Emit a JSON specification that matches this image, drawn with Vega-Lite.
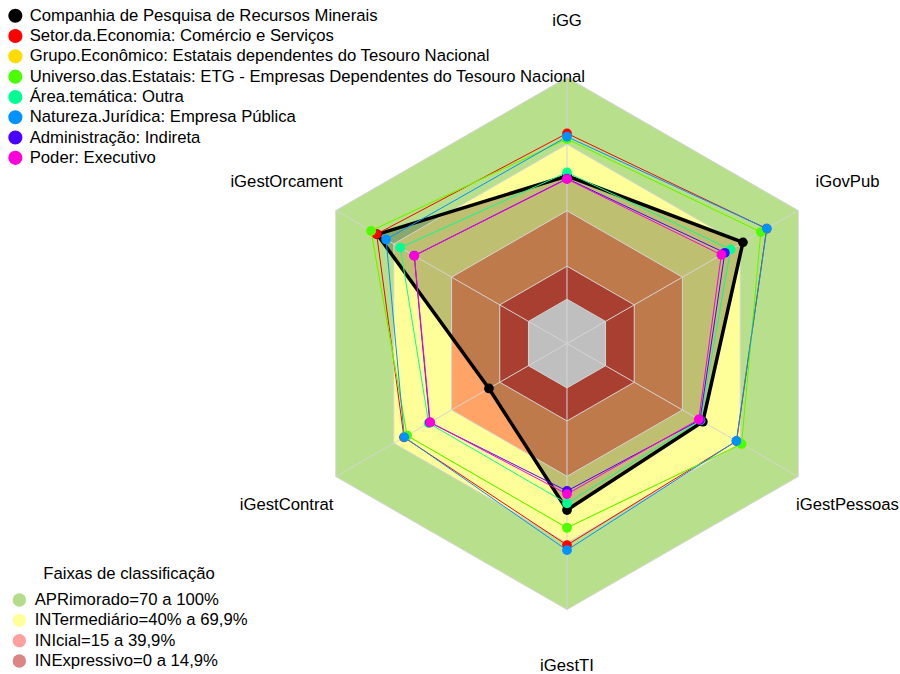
{
  "$schema": "https://vega.github.io/schema/vega-lite/v6.json",
  "width": 900,
  "height": 674,
  "padding": 0,
  "autosize": {"type": "none"},
  "background": "white",
  "config": {"view": {"stroke": null}, "font": "Liberation Sans"},
  "datasets": {
    "series": [
      {"serie": "Companhia de Pesquisa de Recursos Minerais", "iGG": 55.6, "iGovPub": 71.3, "iGestPessoas": 50.5, "iGestTI": 55.1, "iGestContrat": 20.5, "iGestOrcament": 78.5},
      {"serie": "Setor.da.Economia: Comércio e Serviços", "iGG": 74.8, "iGovPub": 83.6, "iGestPessoas": 68.0, "iGestTI": 70.9, "iGestContrat": 64.6, "iGestOrcament": 78.8},
      {"serie": "Grupo.Econômico: Estatais dependentes do Tesouro Nacional", "iGG": 72.3, "iGovPub": 80.6, "iGestPessoas": 70.6, "iGestTI": 63.1, "iGestContrat": 63.0, "iGestOrcament": 81.7},
      {"serie": "Universo.das.Estatais: ETG - Empresas Dependentes do Tesouro Nacional", "iGG": 72.3, "iGovPub": 80.6, "iGestPessoas": 70.6, "iGestTI": 63.1, "iGestContrat": 63.0, "iGestOrcament": 81.7},
      {"serie": "Área.temática: Outra", "iGG": 57.2, "iGovPub": 64.9, "iGestPessoas": 49.3, "iGestTI": 52.1, "iGestContrat": 51.8, "iGestOrcament": 66.5},
      {"serie": "Natureza.Jurídica: Empresa Pública", "iGG": 73.3, "iGovPub": 83.7, "iGestPessoas": 67.9, "iGestTI": 73.2, "iGestContrat": 64.4, "iGestOrcament": 73.9},
      {"serie": "Administração: Indireta", "iGG": 54.4, "iGovPub": 61.9, "iGestPessoas": 49.0, "iGestTI": 46.5, "iGestContrat": 51.2, "iGestOrcament": 59.3},
      {"serie": "Poder: Executivo", "iGG": 54.2, "iGovPub": 60.1, "iGestPessoas": 48.4, "iGestTI": 47.9, "iGestContrat": 51.0, "iGestOrcament": 59.2}
    ],
    "faixas": [
      {"faixa": "APRimorado=70 a 100%", "iGG": 100, "iGovPub": 100, "iGestPessoas": 100, "iGestTI": 100, "iGestContrat": 100, "iGestOrcament": 100},
      {"faixa": "INTermediário=40% a 69,9%", "iGG": 69.9, "iGovPub": 69.9, "iGestPessoas": 69.9, "iGestTI": 69.9, "iGestContrat": 69.9, "iGestOrcament": 69.9},
      {"faixa": "INIcial=15 a 39,9%", "iGG": 39.9, "iGovPub": 39.9, "iGestPessoas": 39.9, "iGestTI": 39.9, "iGestContrat": 39.9, "iGestOrcament": 39.9},
      {"faixa": "INExpressivo=0 a 14,9%", "iGG": 14.9, "iGovPub": 14.9, "iGestPessoas": 14.9, "iGestTI": 14.9, "iGestContrat": 14.9, "iGestOrcament": 14.9},
      {"faixa": "centro", "iGG": 0, "iGovPub": 0, "iGestPessoas": 0, "iGestTI": 0, "iGestContrat": 0, "iGestOrcament": 0}
    ],
    "eixos": [
      {"eixo": "iGG"}, {"eixo": "iGestOrcament"}, {"eixo": "iGestContrat"},
      {"eixo": "iGestTI"}, {"eixo": "iGestPessoas"}, {"eixo": "iGovPub"}
    ]
  },
  "layer": [
    {
      "data": {"name": "faixas"},
      "transform": [
        {"fold": ["iGG", "iGestOrcament", "iGestContrat", "iGestTI", "iGestPessoas", "iGovPub"], "as": ["eixo", "valor"]},
        {"calculate": "indexof(['iGG','iGestOrcament','iGestContrat','iGestTI','iGestPessoas','iGovPub'], datum.eixo)", "as": "k"},
        {"calculate": "(1 + 5 * datum.valor / 100) / 6", "as": "r"},
        {"calculate": "datum.r * cos(PI / 2 + datum.k * PI / 3)", "as": "px"},
        {"calculate": "datum.r * sin(PI / 2 + datum.k * PI / 3)", "as": "py"}
      ],
      "encoding": {
        "x": {"field": "px", "type": "quantitative", "axis": null, "scale": {"domain": [-2.1236, 1.2472], "nice": false, "zero": false}},
        "y": {"field": "py", "type": "quantitative", "axis": null, "scale": {"domain": [-1.2421, 1.2914], "nice": false, "zero": false}},
        "order": {"field": "k", "type": "quantitative"}
      },
      "layer": [
        {"transform": [{"filter": "datum.faixa == 'APRimorado=70 a 100%'"}],
         "mark": {"type": "line", "interpolate": "linear-closed", "strokeWidth": 0, "fill": "#B8E08C", "fillOpacity": 1}},
        {"transform": [{"filter": "datum.faixa == 'INTermediário=40% a 69,9%'"}],
         "mark": {"type": "line", "interpolate": "linear-closed", "strokeWidth": 0, "fill": "#FFFF99", "fillOpacity": 1}},
        {"transform": [{"filter": "datum.faixa == 'INIcial=15 a 39,9%'"}],
         "mark": {"type": "line", "interpolate": "linear-closed", "strokeWidth": 0, "fill": "#FFA366", "fillOpacity": 1}},
        {"transform": [{"filter": "datum.faixa == 'INExpressivo=0 a 14,9%'"}],
         "mark": {"type": "line", "interpolate": "linear-closed", "strokeWidth": 0, "fill": "#E05540", "fillOpacity": 1}},
        {"transform": [{"filter": "datum.faixa == 'centro'"}],
         "mark": {"type": "line", "interpolate": "linear-closed", "strokeWidth": 0, "fill": "#FFFFFF", "fillOpacity": 1}}
      ]
    },
    {
      "data": {"name": "faixas"},
      "transform": [{"filter": "datum.faixa != 'centro'"}],
      "mark": {"type": "circle", "opacity": 0},
      "encoding": {
        "x": {"field": "iGG", "type": "quantitative", "axis": null, "scale": {"domain": [-2.1236, 1.2472], "nice": false, "zero": false}},
        "y": {"field": "iGG", "type": "quantitative", "axis": null, "scale": {"domain": [-1.2421, 1.2914], "nice": false, "zero": false}},
        "fill": {"field": "faixa", "type": "nominal",
          "scale": {"domain": ["APRimorado=70 a 100%", "INTermediário=40% a 69,9%", "INIcial=15 a 39,9%", "INExpressivo=0 a 14,9%"],
                    "range": ["#B5DC8A", "#FFFF99", "#FFA0A0", "#DB8585"]},
          "legend": {"title": "Faixas de classificação", "orient": "none", "legendX": 11, "legendY": 566, "padding": 0,
            "titleFontSize": 16.7, "titleFontWeight": "normal", "titleColor": "black", "titleAnchor": "middle", "titlePadding": 9, "titleFont": "Liberation Sans",
            "labelFontSize": 16.7, "labelColor": "black", "labelFont": "Liberation Sans", "labelLimit": 1000, "labelOffset": 7,
            "symbolType": "circle", "symbolSize": 180, "symbolOpacity": 1, "symbolStrokeWidth": 0, "rowPadding": 2.3}}
      }
    },
    {
      "data": {"name": "series"},
      "transform": [
        {"filter": "datum.serie == 'Companhia de Pesquisa de Recursos Minerais'"},
        {"fold": ["iGG", "iGestOrcament", "iGestContrat", "iGestTI", "iGestPessoas", "iGovPub"], "as": ["eixo", "valor"]},
        {"calculate": "indexof(['iGG','iGestOrcament','iGestContrat','iGestTI','iGestPessoas','iGovPub'], datum.eixo)", "as": "k"},
        {"calculate": "(1 + 5 * datum.valor / 100) / 6", "as": "r"},
        {"calculate": "datum.r * cos(PI / 2 + datum.k * PI / 3)", "as": "px"},
        {"calculate": "datum.r * sin(PI / 2 + datum.k * PI / 3)", "as": "py"}
      ],
      "mark": {"type": "line", "interpolate": "linear-closed", "strokeWidth": 0, "fill": "black", "fillOpacity": 0.25},
      "encoding": {
        "x": {"field": "px", "type": "quantitative", "axis": null, "scale": {"domain": [-2.1236, 1.2472], "nice": false, "zero": false}},
        "y": {"field": "py", "type": "quantitative", "axis": null, "scale": {"domain": [-1.2421, 1.2914], "nice": false, "zero": false}},
        "order": {"field": "k", "type": "quantitative"}
      }
    },
    {
      "data": {"name": "eixos"},
      "transform": [
        {"calculate": "indexof(['iGG','iGestOrcament','iGestContrat','iGestTI','iGestPessoas','iGovPub'], datum.eixo)", "as": "k"},
        {"calculate": "cos(PI / 2 + datum.k * PI / 3)", "as": "px"},
        {"calculate": "sin(PI / 2 + datum.k * PI / 3)", "as": "py"}
      ],
      "mark": {"type": "rule", "color": "#D4D4D4", "strokeWidth": 1},
      "encoding": {
        "x": {"field": "px", "type": "quantitative", "axis": null, "scale": {"domain": [-2.1236, 1.2472], "nice": false, "zero": false}},
        "y": {"field": "py", "type": "quantitative", "axis": null, "scale": {"domain": [-1.2421, 1.2914], "nice": false, "zero": false}},
        "x2": {"datum": 0},
        "y2": {"datum": 0}
      }
    },
    {
      "data": {"name": "faixas"},
      "transform": [
        {"fold": ["iGG", "iGestOrcament", "iGestContrat", "iGestTI", "iGestPessoas", "iGovPub"], "as": ["eixo", "valor"]},
        {"calculate": "indexof(['iGG','iGestOrcament','iGestContrat','iGestTI','iGestPessoas','iGovPub'], datum.eixo)", "as": "k"},
        {"calculate": "(1 + 5 * datum.valor / 100) / 6", "as": "r"},
        {"calculate": "datum.r * cos(PI / 2 + datum.k * PI / 3)", "as": "px"},
        {"calculate": "datum.r * sin(PI / 2 + datum.k * PI / 3)", "as": "py"}
      ],
      "mark": {"type": "line", "interpolate": "linear-closed", "stroke": "#D4D4D4", "strokeWidth": 1},
      "encoding": {
        "x": {"field": "px", "type": "quantitative", "axis": null, "scale": {"domain": [-2.1236, 1.2472], "nice": false, "zero": false}},
        "y": {"field": "py", "type": "quantitative", "axis": null, "scale": {"domain": [-1.2421, 1.2914], "nice": false, "zero": false}},
        "detail": {"field": "faixa", "type": "nominal"},
        "order": {"field": "k", "type": "quantitative"}
      }
    },
    {
      "data": {"name": "series"},
      "transform": [
        {"filter": "datum.serie == 'Companhia de Pesquisa de Recursos Minerais'"},
        {"fold": ["iGG", "iGestOrcament", "iGestContrat", "iGestTI", "iGestPessoas", "iGovPub"], "as": ["eixo", "valor"]},
        {"calculate": "indexof(['iGG','iGestOrcament','iGestContrat','iGestTI','iGestPessoas','iGovPub'], datum.eixo)", "as": "k"},
        {"calculate": "(1 + 5 * datum.valor / 100) / 6", "as": "r"},
        {"calculate": "datum.r * cos(PI / 2 + datum.k * PI / 3)", "as": "px"},
        {"calculate": "datum.r * sin(PI / 2 + datum.k * PI / 3)", "as": "py"}
      ],
      "mark": {"type": "line", "interpolate": "linear-closed", "stroke": "black", "strokeWidth": 3.5},
      "encoding": {
        "x": {"field": "px", "type": "quantitative", "axis": null, "scale": {"domain": [-2.1236, 1.2472], "nice": false, "zero": false}},
        "y": {"field": "py", "type": "quantitative", "axis": null, "scale": {"domain": [-1.2421, 1.2914], "nice": false, "zero": false}},
        "order": {"field": "k", "type": "quantitative"}
      }
    },
    {
      "data": {"name": "series"},
      "transform": [
        {"filter": "datum.serie != 'Companhia de Pesquisa de Recursos Minerais'"},
        {"fold": ["iGG", "iGestOrcament", "iGestContrat", "iGestTI", "iGestPessoas", "iGovPub"], "as": ["eixo", "valor"]},
        {"calculate": "indexof(['iGG','iGestOrcament','iGestContrat','iGestTI','iGestPessoas','iGovPub'], datum.eixo)", "as": "k"},
        {"calculate": "(1 + 5 * datum.valor / 100) / 6", "as": "r"},
        {"calculate": "datum.r * cos(PI / 2 + datum.k * PI / 3)", "as": "px"},
        {"calculate": "datum.r * sin(PI / 2 + datum.k * PI / 3)", "as": "py"}
      ],
      "mark": {"type": "line", "interpolate": "linear-closed", "strokeWidth": 1},
      "encoding": {
        "x": {"field": "px", "type": "quantitative", "axis": null, "scale": {"domain": [-2.1236, 1.2472], "nice": false, "zero": false}},
        "y": {"field": "py", "type": "quantitative", "axis": null, "scale": {"domain": [-1.2421, 1.2914], "nice": false, "zero": false}},
        "order": {"field": "k", "type": "quantitative"},
        "stroke": {"field": "serie", "type": "nominal", "legend": null,
          "scale": {"domain": ["Setor.da.Economia: Comércio e Serviços", "Grupo.Econômico: Estatais dependentes do Tesouro Nacional", "Universo.das.Estatais: ETG - Empresas Dependentes do Tesouro Nacional", "Área.temática: Outra", "Natureza.Jurídica: Empresa Pública", "Administração: Indireta", "Poder: Executivo"],
                    "range": ["#FF0000", "#FFDB00", "#49FF00", "#00FF92", "#0092FF", "#4900FF", "#FF00DB"]}}
      }
    },
    {
      "data": {"name": "series"},
      "transform": [
        {"fold": ["iGG", "iGestOrcament", "iGestContrat", "iGestTI", "iGestPessoas", "iGovPub"], "as": ["eixo", "valor"]},
        {"calculate": "indexof(['iGG','iGestOrcament','iGestContrat','iGestTI','iGestPessoas','iGovPub'], datum.eixo)", "as": "k"},
        {"calculate": "(1 + 5 * datum.valor / 100) / 6", "as": "r"},
        {"calculate": "datum.r * cos(PI / 2 + datum.k * PI / 3)", "as": "px"},
        {"calculate": "datum.r * sin(PI / 2 + datum.k * PI / 3)", "as": "py"}
      ],
      "mark": {"type": "circle", "size": 95, "opacity": 1},
      "encoding": {
        "x": {"field": "px", "type": "quantitative", "axis": null, "scale": {"domain": [-2.1236, 1.2472], "nice": false, "zero": false}},
        "y": {"field": "py", "type": "quantitative", "axis": null, "scale": {"domain": [-1.2421, 1.2914], "nice": false, "zero": false}},
        "color": {"field": "serie", "type": "nominal",
          "scale": {"domain": ["Companhia de Pesquisa de Recursos Minerais", "Setor.da.Economia: Comércio e Serviços", "Grupo.Econômico: Estatais dependentes do Tesouro Nacional", "Universo.das.Estatais: ETG - Empresas Dependentes do Tesouro Nacional", "Área.temática: Outra", "Natureza.Jurídica: Empresa Pública", "Administração: Indireta", "Poder: Executivo"],
                    "range": ["#000000", "#FF0000", "#FFDB00", "#49FF00", "#00FF92", "#0092FF", "#4900FF", "#FF00DB"]},
          "legend": {"title": "", "orient": "none", "legendX": 7, "legendY": 7.4, "padding": 0,
            "labelFontSize": 16.7, "labelColor": "black", "labelFont": "Liberation Sans", "labelLimit": 1000, "labelOffset": 6,
            "symbolType": "circle", "symbolSize": 200, "symbolOpacity": 1, "symbolStrokeWidth": 0, "rowPadding": 2.3}}
      }
    },
    {
      "data": {"name": "eixos"},
      "transform": [
        {"calculate": "indexof(['iGG','iGestOrcament','iGestContrat','iGestTI','iGestPessoas','iGovPub'], datum.eixo)", "as": "k"},
        {"calculate": "1.213 * cos(PI / 2 + datum.k * PI / 3)", "as": "px"},
        {"calculate": "1.213 * sin(PI / 2 + datum.k * PI / 3)", "as": "py"}
      ],
      "mark": {"type": "text", "fontSize": 16.7, "font": "Liberation Sans", "color": "black", "align": "center", "baseline": "middle"},
      "encoding": {
        "x": {"field": "px", "type": "quantitative", "axis": null, "scale": {"domain": [-2.1236, 1.2472], "nice": false, "zero": false}},
        "y": {"field": "py", "type": "quantitative", "axis": null, "scale": {"domain": [-1.2421, 1.2914], "nice": false, "zero": false}},
        "text": {"field": "eixo", "type": "nominal"}
      }
    }
  ]
}
